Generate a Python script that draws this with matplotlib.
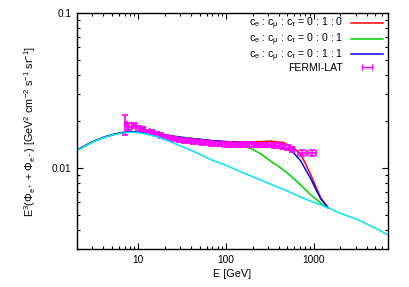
import matplotlib
matplotlib.use('Agg')
import matplotlib.pyplot as plt
import numpy as np
from matplotlib.ticker import LogLocator, NullFormatter, FixedLocator, FixedFormatter

plt.rcParams['font.family'] = ['Liberation Sans', 'DejaVu Sans']
plt.rcParams['mathtext.fontset'] = 'custom'
plt.rcParams['mathtext.rm'] = 'Liberation Sans'
plt.rcParams['mathtext.it'] = 'Liberation Sans'

# background (cyan)
bg_E = [2, 3, 4, 5, 6.5, 8, 10, 12, 17, 25, 35, 50, 65, 100, 150, 200, 300, 500, 700, 1000, 1450, 2000, 3000, 5000, 7000]
bg_F = [0.0130, 0.0147, 0.0157, 0.0163, 0.0168, 0.0170, 0.0169, 0.0166, 0.0158, 0.0145, 0.0134, 0.0123, 0.0114,
        0.0104, 0.0094, 0.0088, 0.0080, 0.0071, 0.0065, 0.0060, 0.00555, 0.0051, 0.0047, 0.0041, 0.0037]

# 0:1:0 (red)
red_E = [2, 3, 4, 5, 6.5, 8, 10, 12, 17, 25, 35, 50, 70, 100, 150, 250, 320, 450, 590, 709, 800, 924, 1050, 1200, 1450]
red_F = [0.01305, 0.01475, 0.01575, 0.01637, 0.0169, 0.0171, 0.0171, 0.0170, 0.0166, 0.0160, 0.0156, 0.0153, 0.0150,
         0.0148, 0.0147, 0.0148, 0.0149, 0.0146, 0.0135, 0.0122, 0.0107, 0.0090, 0.0076, 0.0064, 0.00555]

# 0:0:1 (green)
green_E = [2, 3, 4, 5, 6.5, 8, 10, 12, 17, 25, 35, 50, 70, 100, 157, 189, 245, 320, 420, 544, 700, 924, 1100, 1300, 1450]
green_F = [0.01305, 0.01475, 0.01575, 0.01637, 0.0169, 0.0171, 0.0171, 0.0170, 0.0166, 0.0161, 0.0157, 0.0153, 0.0149,
           0.0145, 0.0138, 0.0134, 0.0124, 0.0111, 0.0100, 0.0089, 0.0078, 0.0067, 0.0062, 0.0057, 0.00555]

# 0:1:1 (blue)
blue_E = [2, 3, 4, 5, 6.5, 8, 10, 12, 17, 25, 35, 50, 70, 100, 157, 250, 350, 452, 590, 709, 800, 924, 1050, 1200, 1450]
blue_F = [0.01305, 0.01475, 0.01575, 0.01637, 0.0169, 0.0171, 0.0171, 0.0170, 0.0166, 0.0160, 0.0156, 0.0153, 0.0150,
          0.0148, 0.0145, 0.0142, 0.0140, 0.0137, 0.0125, 0.0111, 0.0098, 0.0085, 0.0073, 0.0063, 0.00555]

# FERMI-LAT
fermi_E = [7.05, 7.94, 8.94, 10.1, 11.3, 12.8, 14.4, 16.2, 18.2, 20.5, 23.1, 26.0, 29.3, 33.0, 37.2, 41.8, 47.1,
           53.0, 59.7, 67.2, 75.7, 85.2, 95.9, 108, 121, 137, 154, 173, 195, 220, 247, 278, 313, 353, 397, 447,
           504, 567, 730, 950]
fermi_F = [0.0191, 0.0185, 0.0188, 0.0180, 0.0178, 0.0172, 0.0170, 0.0166, 0.0162, 0.0158, 0.0156, 0.0154, 0.0152,
           0.0150, 0.0149, 0.0148, 0.0147, 0.0146, 0.0145, 0.0144, 0.0143, 0.0143, 0.0142, 0.0142, 0.0141, 0.0141,
           0.0142, 0.0141, 0.0142, 0.0141, 0.0141, 0.0141, 0.0141, 0.0140, 0.0139, 0.0137, 0.0135, 0.0132,
           0.0125, 0.0125]
fermi_err = [0.0028, 0.0010, 0.0008, 0.0006, 0.0006, 0.0005, 0.0005, 0.0005, 0.0005, 0.0005, 0.0005, 0.0005, 0.0005,
             0.0005, 0.0005, 0.0005, 0.0005, 0.0005, 0.0005, 0.0005, 0.0005, 0.0005, 0.0005, 0.0005, 0.0005, 0.0005,
             0.0005, 0.0005, 0.0005, 0.0005, 0.0005, 0.0005, 0.0005, 0.0005, 0.0005, 0.0005, 0.0005, 0.0005,
             0.0005, 0.0005]
fermi_lo = [7.0, 7.5, 8.4, 9.5, 10.7, 12.0, 13.6, 15.3, 17.2, 19.3, 21.8, 24.5, 27.6, 31.1, 35.0, 39.4, 44.4,
            50.0, 56.3, 63.3, 71.3, 80.3, 90.4, 102, 115, 129, 145, 163, 184, 207, 233, 262, 295, 332, 374, 421,
            474, 534, 660, 860]
fermi_hi = [7.5, 8.4, 9.5, 10.7, 12.0, 13.6, 15.3, 17.2, 19.3, 21.8, 24.5, 27.6, 31.1, 35.0, 39.4, 44.4, 50.0,
            56.3, 63.3, 71.3, 80.3, 90.4, 102, 115, 129, 145, 163, 184, 207, 233, 262, 295, 332, 374, 421, 474,
            534, 600, 810, 1050]

fs = 7.8
fig = plt.figure(figsize=(4.09, 2.87), dpi=100)
ax = fig.add_axes([0.188, 0.132, 0.761, 0.823])

lw = 1.1
ax.plot(red_E, red_F, color='#ff0000', lw=lw, label=r'c$_e$ : c$_\mu$ : c$_\tau$ = 0 : 1 : 0')
ax.plot(green_E, green_F, color='#00d000', lw=lw, label=r'c$_e$ : c$_\mu$ : c$_\tau$ = 0 : 0 : 1')
ax.plot(blue_E, blue_F, color='#0000ff', lw=lw, label=r'c$_e$ : c$_\mu$ : c$_\tau$ = 0 : 1 : 1')
xerr = [[e - lo for e, lo in zip(fermi_E, fermi_lo)], [hi - e for e, hi in zip(fermi_E, fermi_hi)]]
ax.errorbar(fermi_E, fermi_F, yerr=fermi_err, xerr=xerr, fmt='none', ecolor='#ff00ff', elinewidth=1.2,
            capsize=2.0, capthick=1.2)
# legend entry for the data: horizontal bar with caps
ax.errorbar([np.nan], [np.nan], xerr=[1], fmt='none', ecolor='#ff00ff', elinewidth=1.0,
            capsize=2.5, capthick=1.0, label='FERMI-LAT')
ax.plot(bg_E, bg_F, color='#00e5f5', lw=lw)

ax.set_xscale('log')
ax.set_yscale('log')
ax.set_xlim(2, 7000)
ax.set_ylim(0.003, 0.1)

ax.xaxis.set_major_locator(FixedLocator([10, 100, 1000]))
ax.xaxis.set_major_formatter(FixedFormatter(['10', '100', '1000']))
ax.xaxis.set_minor_locator(LogLocator(base=10, subs=range(2, 10)))
ax.xaxis.set_minor_formatter(NullFormatter())
ax.yaxis.set_major_locator(FixedLocator([0.01, 0.1]))
ax.yaxis.set_major_formatter(FixedFormatter(['0.01', '0.1']))
ax.yaxis.set_minor_locator(LogLocator(base=10, subs=range(2, 10)))
ax.yaxis.set_minor_formatter(NullFormatter())
ax.tick_params(which='both', direction='in', top=True, right=True, labelsize=7.3, width=0.8)
ax.tick_params(which='major', length=4, pad=4)
ax.tick_params(which='minor', length=2)
for s in ax.spines.values():
    s.set_linewidth(1.0)

ax.set_xlabel('E [GeV]', fontsize=fs, labelpad=3)
ax.set_ylabel(r'E$^3$($\Phi_{e^+}$ + $\Phi_{e^-}$) [GeV$^2$ cm$^{-2}$ s$^{-1}$ sr$^{-1}$]', fontsize=fs, labelpad=10)

leg = ax.legend(loc='upper right', frameon=False, fontsize=7.6, markerfirst=False, handlelength=3.1,
                labelspacing=-0.08, borderaxespad=0.3, borderpad=0.0, handletextpad=0.7,
                bbox_to_anchor=(0.995, 1.0))

fig.savefig('out.png', dpi=100)
